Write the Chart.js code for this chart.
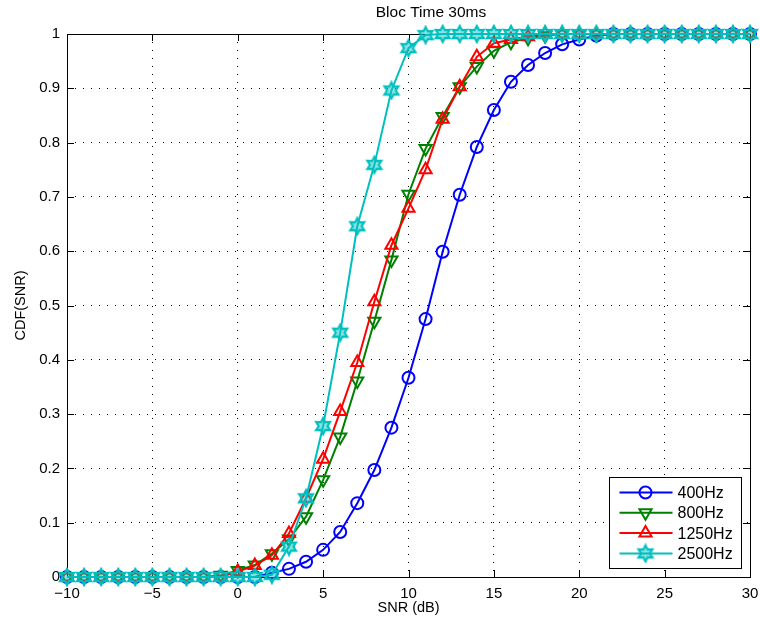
<!DOCTYPE html>
<html lang="en">
<head>
<meta charset="UTF-8" />
<title>Bloc Time 30ms</title>
<script src="https://cdn.jsdelivr.net/npm/chart.js"></script>
<style>
  body { margin: 0; background: #fff; }
  #wrap { width: 760px; height: 625px; }
</style>
</head>
<body>
<div id="wrap"><canvas id="cdfChart" width="760" height="625"></canvas></div>
<script>
  // SNR axis (dB)
  const snr = [-10, -9, -8, -7, -6, -5, -4, -3, -2, -1, 0, 1, 2, 3, 4, 5, 6, 7, 8, 9, 10,
               11, 12, 13, 14, 15, 16, 17, 18, 19, 20, 21, 22, 23, 24, 25, 26, 27, 28, 29, 30];

  const cdf400 = [0, 0, 0, 0, 0, 0, 0, 0, 0, 0, 0, 0,
                  0.008, 0.015, 0.028, 0.05, 0.083, 0.136, 0.197, 0.275, 0.367, 0.475,
                  0.599, 0.704, 0.792, 0.86, 0.912, 0.943, 0.965, 0.981, 0.99, 0.997,
                  1, 1, 1, 1, 1, 1, 1, 1, 1];
  const cdf800 = [0, 0, 0, 0, 0, 0, 0, 0, 0,
                  0.003, 0.012, 0.022, 0.043, 0.07, 0.111, 0.179, 0.258, 0.361, 0.471, 0.584,
                  0.705, 0.789, 0.848, 0.903, 0.94, 0.969, 0.985, 0.992, 0.997,
                  1, 1, 1, 1, 1, 1, 1, 1, 1, 1, 1, 1, 1];
  const cdf1250 = [0, 0, 0, 0, 0, 0, 0, 0, 0, 0,
                   0.01, 0.021, 0.04, 0.08, 0.145, 0.217, 0.305, 0.395, 0.507, 0.611,
                   0.679, 0.75, 0.843, 0.903, 0.958, 0.983, 0.99, 0.995,
                   1, 1, 1, 1, 1, 1, 1, 1, 1, 1, 1, 1, 1];
  const cdf2500 = [0, 0, 0, 0, 0, 0, 0, 0, 0, 0, 0, 0,
                   0.004, 0.056, 0.145, 0.278, 0.45, 0.646, 0.759, 0.896, 0.974, 0.998,
                   1, 1, 1, 1, 1, 1, 1, 1, 1, 1, 1, 1, 1, 1, 1, 1, 1, 1, 1];

  const seriesNames = ['400Hz', '800Hz', '1250Hz', '2500Hz'];
  const xTicks = [-10, -5, 0, 5, 10, 15, 20, 25, 30];
  const yTicks = [0, 0.1, 0.2, 0.3, 0.4, 0.5, 0.6, 0.7, 0.8, 0.9, 1];
  const chartTitle = 'Bloc Time 30ms';

  const FONT = '"Liberation Sans", Arial, Helvetica, sans-serif';

  // hexagram marker (MATLAB 'h')
  function hexagram(color) {
    const c = document.createElement('canvas');
    c.width = 20; c.height = 20;
    const g = c.getContext('2d');
    g.strokeStyle = color;
    g.fillStyle = 'rgba(0,191,191,0.45)';
    g.lineWidth = 2.2;
    g.lineJoin = 'miter';
    g.beginPath();
    for (let i = 0; i < 12; i++) {
      const r = i % 2 === 0 ? 8 : 4.4;
      const a = -Math.PI / 2 + i * Math.PI / 6;
      const px = 10 + r * Math.cos(a), py = 10 + r * Math.sin(a);
      i === 0 ? g.moveTo(px, py) : g.lineTo(px, py);
    }
    g.closePath();
    g.fill();
    g.stroke();
    return c;
  }
  const star = hexagram('#00bfbf');

  function pts(arr) {
    return snr.map((x, i) => ({ x: x, y: arr[i] }));
  }

  const styles = [
    { color: '#0000ff', pointStyle: 'circle', radius: 6, rotation: 0, order: 3 },
    { color: '#008000', pointStyle: 'triangle', radius: 7, rotation: 180, order: 2 },
    { color: '#ff0000', pointStyle: 'triangle', radius: 7, rotation: 0, order: 1 },
    { color: '#00bfbf', pointStyle: star, radius: 8, rotation: 0, order: 0 }
  ];
  const values = [cdf400, cdf800, cdf1250, cdf2500];

  const datasets = seriesNames.map((name, i) => ({
    label: name,
    data: pts(values[i]),
    borderColor: styles[i].color,
    backgroundColor: 'rgba(0,0,0,0)',
    borderWidth: 2,
    pointStyle: styles[i].pointStyle,
    pointRadius: styles[i].radius,
    pointRotation: styles[i].rotation,
    pointBorderWidth: 2,
    pointBorderColor: styles[i].color,
    pointBackgroundColor: 'rgba(0,0,0,0)',
    tension: 0,
    clip: false,
    order: styles[i].order
  }));

  // box, inward ticks, title and legend, matlab style
  const matlabAxes = {
    id: 'matlabAxes',
    beforeDatasetsDraw(chart) {
      const { ctx, chartArea: a, scales } = chart;
      ctx.save();
      ctx.strokeStyle = '#000';
      ctx.lineWidth = 1;
      ctx.strokeRect(Math.round(a.left) + 0.5, Math.round(a.top) + 0.5,
                     Math.round(a.right - a.left), Math.round(a.bottom - a.top));
      ctx.beginPath();
      const tl = 7;
      xTicks.forEach(v => {
        const px = Math.round(scales.x.getPixelForValue(v)) + 0.5;
        ctx.moveTo(px, a.bottom); ctx.lineTo(px, a.bottom - tl);
        ctx.moveTo(px, a.top); ctx.lineTo(px, a.top + tl);
      });
      yTicks.forEach(v => {
        const py = Math.round(scales.y.getPixelForValue(v)) + 0.5;
        ctx.moveTo(a.left, py); ctx.lineTo(a.left + tl, py);
        ctx.moveTo(a.right, py); ctx.lineTo(a.right - tl, py);
      });
      ctx.stroke();
      // title sits a little right of the axes centre in the original
      ctx.fillStyle = '#000';
      ctx.font = '15.5px ' + FONT;
      ctx.textAlign = 'center';
      ctx.textBaseline = 'middle';
      ctx.fillText(chartTitle, 431, 13);
      ctx.restore();
    },
    afterDraw(chart) {
      const { ctx, chartArea: a } = chart;
      const w = 132, h = 91;
      const left = Math.round(a.right - 9 - w) + 0.5;
      const top = Math.round(a.bottom - 9 - h) + 0.5;
      ctx.save();
      ctx.fillStyle = '#fff';
      ctx.fillRect(left, top, w, h);
      ctx.strokeStyle = '#000';
      ctx.lineWidth = 1;
      ctx.strokeRect(left, top, w, h);
      ctx.font = '16px ' + FONT;
      ctx.textBaseline = 'middle';
      seriesNames.forEach((name, i) => {
        const y = top + 15 + i * 20.3;
        const s = styles[i];
        ctx.strokeStyle = s.color;
        ctx.lineWidth = 2;
        ctx.beginPath();
        ctx.moveTo(left + 10, y); ctx.lineTo(left + 63, y);
        ctx.stroke();
        const mx = left + 36;
        ctx.beginPath();
        if (s.pointStyle === 'circle') {
          ctx.arc(mx, y, s.radius, 0, Math.PI * 2);
          ctx.stroke();
        } else if (s.pointStyle === 'triangle') {
          const dir = s.rotation === 180 ? 1 : -1;
          const r = s.radius;
          ctx.moveTo(mx, y + dir * r);
          ctx.lineTo(mx - r * 0.866, y - dir * r * 0.5);
          ctx.lineTo(mx + r * 0.866, y - dir * r * 0.5);
          ctx.closePath();
          ctx.stroke();
        } else {
          ctx.drawImage(s.pointStyle, mx - 10, y - 10);
        }
        ctx.fillStyle = '#000';
        ctx.fillText(name, left + 68, y + 1);
      });
      ctx.restore();
    }
  };

  new Chart(document.getElementById('cdfChart'), {
    type: 'line',
    data: { datasets: datasets },
    plugins: [matlabAxes],
    options: {
      responsive: false,
      animation: false,
      events: [],
      layout: { padding: { left: 0, right: 5, top: 34, bottom: 0 } },
      plugins: {
        legend: { display: false },
        tooltip: { enabled: false },
        title: { display: false }
      },
      scales: {
        x: {
          type: 'linear',
          min: -10,
          max: 30,
          afterFit(scale) { scale.height = 48; scale.paddingLeft = 0; scale.paddingRight = 0; },
          afterBuildTicks(scale) { scale.ticks = xTicks.map(v => ({ value: v })); },
          ticks: {
            color: '#000',
            font: { family: FONT, size: 15 },
            padding: 8,
            maxRotation: 0,
            autoSkip: false,
            callback: v => String(v).replace('-', '\u2212')
          },
          grid: { color: '#000', lineWidth: 1, drawTicks: false },
          border: { display: false, dash: [1, 7] },
          title: {
            display: true,
            text: 'SNR (dB)',
            color: '#000',
            font: { family: FONT, size: 14.5 },
            padding: { top: 8, bottom: 8 }
          }
        },
        y: {
          min: 0,
          max: 1,
          afterFit(scale) { scale.width = 67; scale.paddingTop = 0; scale.paddingBottom = 0; },
          afterBuildTicks(scale) { scale.ticks = yTicks.map(v => ({ value: v })); },
          ticks: {
            color: '#000',
            font: { family: FONT, size: 15 },
            padding: 7,
            autoSkip: false,
            callback: v => String(v)
          },
          grid: { color: '#000', lineWidth: 1, drawTicks: false },
          border: { display: false, dash: [1, 7] },
          title: {
            display: true,
            text: 'CDF(SNR)',
            color: '#000',
            font: { family: FONT, size: 14.5 },
            padding: { top: 12, bottom: 4 }
          }
        }
      }
    }
  });
</script>
</body>
</html>
